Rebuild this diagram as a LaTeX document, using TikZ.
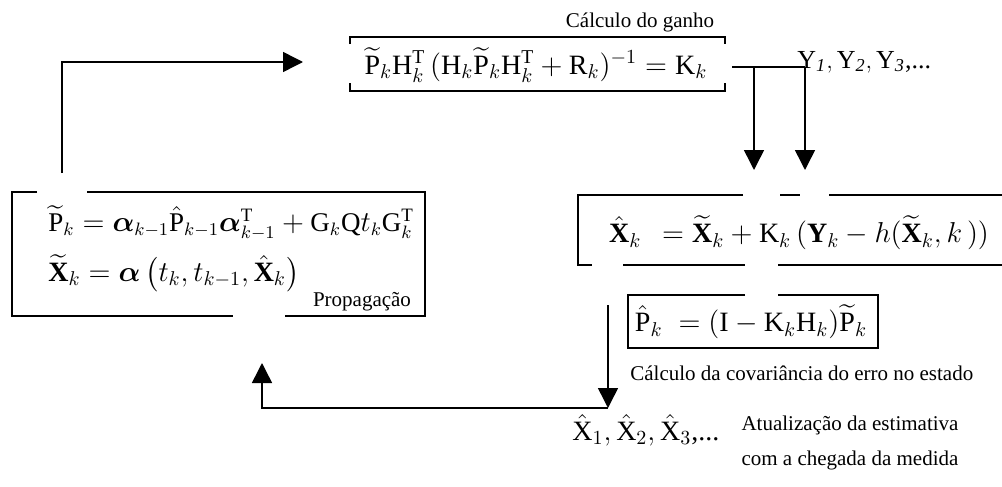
\documentclass[tikz,border=0pt]{standalone}
\usepackage{amsmath}
\usepackage{fontspec}
\setmainfont{Liberation Serif}
\usetikzlibrary{arrows.meta,positioning,calc}
\newcommand{\rmv}[1]{\mathrm{#1}}

\begin{document}
\begin{tikzpicture}[
  x=0.5pt, y=-0.5pt,
  eq/.style={font=\fontsize{14}{16}\selectfont, inner sep=0pt},
  lbl/.style={font=\fontsize{10.5}{17.5}\selectfont, inner sep=0pt, align=center},
  frame/.style={line width=0.75pt},
  wire/.style={line width=0.75pt},
  arr/.style={-{Triangle[length=10pt,width=10pt]}, line width=0.75pt}
]
\useasboundingbox (0,0) rectangle (1002,487);

\node[eq] (gain) at (536,65) {$\widetilde{\rmv{P}}_k\rmv{H}_k^{\rmv{T}}\,(\rmv{H}_k\widetilde{\rmv{P}}_k\rmv{H}_k^{\rmv{T}}+\rmv{R}_k)^{-1}=\rmv{K}_k$};
\node[lbl] (gainlbl) at (640,22) {Cálculo do ganho};
\node[eq, font=\fontsize{13}{15}\selectfont, anchor=west] (yseq) at (797,62) {$\rmv{Y}_{\mathit{1}},\rmv{Y}_{\mathit{2}},\rmv{Y}_{\mathit{3}}$,...};
\node[eq] (upd) at (799,233) {$\hat{\mathbf{X}}_k\;\,=\widetilde{\mathbf{X}}_k+\rmv{K}_k\,(\mathbf{Y}_k-h(\widetilde{\mathbf{X}}_k,k\,))$};
\node[eq] (cov) at (751,322) {$\hat{\rmv{P}}_k\;=(\rmv{I}-\rmv{K}_k\rmv{H}_k)\widetilde{\rmv{P}}_k$};
\node[lbl, anchor=west] (covlbl) at (630,373) {Cálculo da covariância do erro no estado};
\node[eq, font=\fontsize{13.5}{16}\selectfont, anchor=west] (prop1) at (48,223) {$\widetilde{\rmv{P}}_k=\boldsymbol{\alpha}_{k-1}\hat{\rmv{P}}_{k-1}\boldsymbol{\alpha}_{k-1}^{\rmv{T}}+\rmv{G}_k\rmv{Q}t_k\rmv{G}_k^{\rmv{T}}$};
\node[eq, anchor=west] (prop2) at (48,273) {$\widetilde{\mathbf{X}}_k=\boldsymbol{\alpha}\left(t_k,t_{k-1},\hat{\mathbf{X}}_k\right)$};
\node[lbl] (proplbl) at (362,302) {Propagação};
\node[eq, anchor=west] (xseq) at (572,430) {$\hat{\rmv{X}}_1,\hat{\rmv{X}}_2,\hat{\rmv{X}}_3$,...};
\node[lbl] (atual) at (850,443) {Atualização da estimativa\\com a chegada da medida};

\draw[frame] (350,44) -- (350,37) -- (725,37) -- (725,44);
\draw[frame] (350,83) -- (350,91) -- (725,91) -- (725,83);
\draw[frame] (37,192) -- (12,192) -- (12,316) -- (233,316);
\draw[frame] (87,192) -- (425,192) -- (425,316) -- (285,316);
\draw[frame] (743,195) -- (578,195) -- (578,265) -- (592,265);
\draw[frame] (780,195) -- (800,195);
\draw[frame] (829,195) -- (1002,195);
\draw[frame] (623,265) -- (745,265);
\draw[frame] (778,265) -- (1002,265);
\draw[frame] (745,295) -- (628,295) -- (628,348) -- (878,348) -- (878,295) -- (778,295);

\coordinate (propout) at (62,173);
\coordinate (gainin) at (303,62);
\coordinate (kout) at (732,67);
\coordinate (ycorner) at (805,67);
\coordinate (kdown) at (754,67);
\coordinate (updin1) at (754,170);
\coordinate (updin2) at (805,170);
\coordinate (covout) at (608,305);
\coordinate (xjoin) at (608,408);
\coordinate (propin) at (262,363);

\draw[arr] (propout) |- (gainin);
\draw[wire] (kout) -- (ycorner);
\draw[arr] (kdown) -- (updin1);
\draw[arr] (ycorner) -- (updin2);
\draw[arr] (covout) -- (xjoin);
\draw[arr] (xjoin) -| (propin);
\end{tikzpicture}
\end{document}
